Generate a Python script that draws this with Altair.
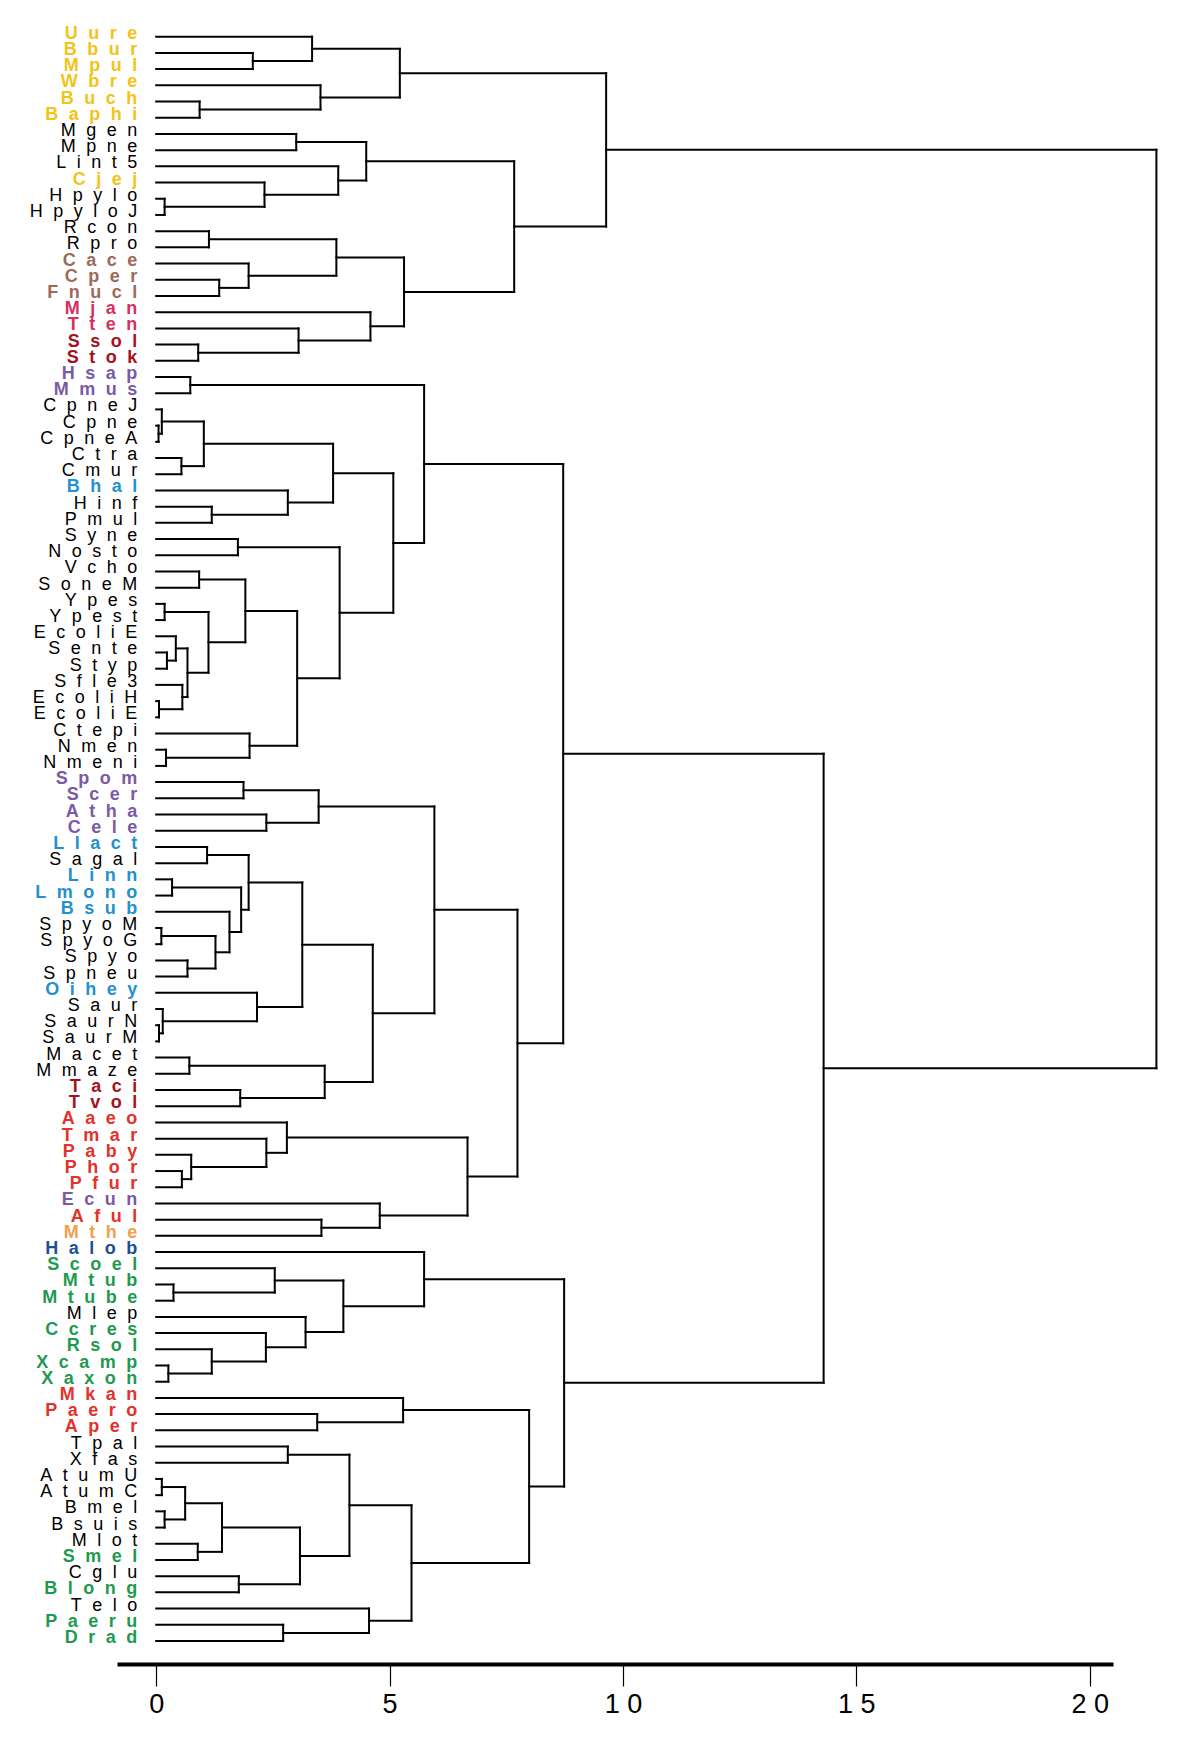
import altair as alt
import pandas as pd

# ---- leaves (top to bottom) ----
leaves = ["Uure", "Bbur", "Mpul", "Wbre", "Buch", "Baphi", "Mgen", "Mpne", "Lint5", "Cjej",
          "Hpylo", "HpyloJ", "Rcon", "Rpro", "Cace", "Cper", "Fnucl", "Mjan", "Tten", "Ssol",
          "Stok", "Hsap", "Mmus", "CpneJ", "Cpne", "CpneA", "Ctra", "Cmur", "Bhal", "Hinf",
          "Pmul", "Syne", "Nosto", "Vcho", "SoneM", "Ypes", "Ypest", "EcoliE", "Sente", "Styp",
          "Sfle3", "EcoliH", "EcoliE", "Ctepi", "Nmen", "Nmeni", "Spom", "Scer", "Atha", "Cele",
          "Llact", "Sagal", "Linn", "Lmono", "Bsub", "SpyoM", "SpyoG", "Spyo", "Spneu", "Oihey",
          "Saur", "SaurN", "SaurM", "Macet", "Mmaze", "Taci", "Tvol", "Aaeo", "Tmar", "Paby",
          "Phor", "Pfur", "Ecun", "Aful", "Mthe", "Halob", "Scoel", "Mtub", "Mtube", "Mlep",
          "Ccres", "Rsol", "Xcamp", "Xaxon", "Mkan", "Paero", "Aper", "Tpal", "Xfas", "AtumU",
          "AtumC", "Bmel", "Bsuis", "Mlot", "Smel", "Cglu", "Blong", "Telo", "Paeru", "Drad"]

leaf_group = ["Y", "Y", "Y", "Y", "Y", "Y", "K", "K", "K", "Y",
              "K", "K", "K", "K", "BR", "BR", "BR", "PK", "PK", "DR",
              "DR", "PU", "PU", "K", "K", "K", "K", "K", "BL", "K",
              "K", "K", "K", "K", "K", "K", "K", "K", "K", "K",
              "K", "K", "K", "K", "K", "K", "PU", "PU", "PU", "PU",
              "BL", "K", "BL", "BL", "BL", "K", "K", "K", "K", "BL",
              "K", "K", "K", "K", "K", "DR", "DR", "R", "R", "R",
              "R", "R", "PU", "R", "OR", "DB", "G", "G", "G", "K",
              "G", "G", "G", "G", "R", "R", "R", "K", "K", "K",
              "K", "K", "K", "K", "G", "K", "G", "K", "G", "G"]

group_colors = {"Y": "#F3C318", "BR": "#9C6A5A", "PK": "#D7305F", "DR": "#A5121B",
                "PU": "#7A5AA5", "BL": "#2391CF", "R": "#E2322A", "OR": "#F0A04E",
                "DB": "#1D4F93", "G": "#1E9A50", "K": "#000000"}

# ---- merges: (cluster id, child a, child b, height); ints are leaf indices ----
merges = [
    ("m1", 1, 2, 2.07), ("m2", 0, "m1", 3.34), ("m3", 4, 5, 0.93), ("m4", 3, "m3", 3.52),
    ("m5", "m2", "m4", 5.22), ("m6", 6, 7, 3.00), ("m7", 10, 11, 0.18), ("m8", 9, "m7", 2.32),
    ("m9", 8, "m8", 3.90), ("m10", "m6", "m9", 4.50), ("m11", 12, 13, 1.13), ("m12", 15, 16, 1.35),
    ("m13", 14, "m12", 1.98), ("m14", "m11", "m13", 3.86), ("m15", 19, 20, 0.90),
    ("m16", 18, "m15", 3.05), ("m17", 17, "m16", 4.59), ("m18", "m14", "m17", 5.31),
    ("m19", "m10", "m18", 7.67), ("m20", "m5", "m19", 9.64),
    ("m21", 21, 22, 0.73), ("m22", 24, 25, 0.05), ("m23", 23, "m22", 0.12), ("m24", 26, 27, 0.54),
    ("m25", "m23", "m24", 1.02), ("m26", 29, 30, 1.19), ("m27", 28, "m26", 2.82),
    ("m28", "m25", "m27", 3.79), ("m29", 31, 32, 1.75), ("m30", 33, 34, 0.92), ("m31", 35, 36, 0.18),
    ("m32", 38, 39, 0.23), ("m33", 37, "m32", 0.42), ("m34", 41, 42, 0.06), ("m35", 40, "m34", 0.56),
    ("m36", "m33", "m35", 0.67), ("m37", "m31", "m36", 1.12), ("m38", "m30", "m37", 1.91),
    ("m39", 44, 45, 0.21), ("m40", 43, "m39", 2.00), ("m41", "m38", "m40", 3.02),
    ("m42", "m29", "m41", 3.93), ("m43", "m28", "m42", 5.08), ("m44", "m21", "m43", 5.74),
    ("m45", 46, 47, 1.87), ("m46", 48, 49, 2.36), ("m47", "m45", "m46", 3.48), ("m48", 50, 51, 1.09),
    ("m49", 52, 53, 0.34), ("m50", 55, 56, 0.11), ("m51", 57, 58, 0.67), ("m52", "m50", "m51", 1.27),
    ("m53", 54, "m52", 1.57), ("m54", "m49", "m53", 1.82), ("m55", "m48", "m54", 1.98),
    ("m56", 61, 62, 0.06), ("m57", 60, "m56", 0.14), ("m58", 59, "m57", 2.16),
    ("m59", "m55", "m58", 3.13), ("m60", 63, 64, 0.71), ("m61", 65, 66, 1.80),
    ("m62", "m60", "m61", 3.61), ("m63", "m59", "m62", 4.64), ("m64", "m47", "m63", 5.96),
    ("m65", 70, 71, 0.55), ("m66", 69, "m65", 0.75), ("m67", 68, "m66", 2.36), ("m68", 67, "m67", 2.80),
    ("m69", 73, 74, 3.54), ("m70", 72, "m69", 4.79), ("m71", "m68", "m70", 6.67),
    ("m72", "m64", "m71", 7.74), ("m73", "m44", "m72", 8.72),
    ("m74", 77, 78, 0.37), ("m75", 76, "m74", 2.54), ("m76", 82, 83, 0.26), ("m77", 81, "m76", 1.19),
    ("m78", 80, "m77", 2.35), ("m79", 79, "m78", 3.20), ("m80", "m75", "m79", 4.01),
    ("m81", 75, "m80", 5.74), ("m82", 85, 86, 3.45), ("m83", 84, "m82", 5.29), ("m84", 87, 88, 2.82),
    ("m85", 89, 90, 0.12), ("m86", 91, 92, 0.18), ("m87", "m85", "m86", 0.62), ("m88", 93, 94, 0.89),
    ("m89", "m87", "m88", 1.41), ("m90", 95, 96, 1.77), ("m91", "m89", "m90", 3.08),
    ("m92", "m84", "m91", 4.14), ("m93", 98, 99, 2.72), ("m94", 97, "m93", 4.56),
    ("m95", "m92", "m94", 5.47), ("m96", "m83", "m95", 7.99), ("m97", "m81", "m96", 8.74),
    ("m98", "m73", "m97", 14.30), ("m99", "m20", "m98", 21.43),
]

tick_values = [0, 5, 10, 15, 20]

# ---- build dendrogram segments from the merges ----
pos = {i: float(i) for i in range(len(leaves))}
hgt = {i: 0.0 for i in range(len(leaves))}
segs = []
for cid, a, b, h in merges:
    for c in (a, b):
        segs.append({"x": hgt[c], "x2": h, "y": pos[c], "y2": pos[c]})
    segs.append({"x": h, "x2": h, "y": pos[a], "y2": pos[b]})
    pos[cid] = (pos[a] + pos[b]) / 2.0
    hgt[cid] = h
seg_df = pd.DataFrame(segs)

sp = "\u2002\u200A"
lab_df = pd.DataFrame({
    "idx": list(range(len(leaves))),
    "h": [hgt[i] for i in range(len(leaves))],
    "label": [sp.join(list(n)) for n in leaves],
    "grp": leaf_group,
    "hex": [group_colors[g] for g in leaf_group],
})

xscale = alt.Scale(domain=[-0.84, 20.5], nice=False, zero=False)
yscale = alt.Scale(domain=[-1.03, 100.42], nice=False, zero=False, reverse=True)

xaxis = alt.Axis(values=tick_values, title=None, grid=False, domainWidth=4, domainColor="black",
                 tickColor="black", tickWidth=1.2, tickSize=22, labelFontSize=27,
                 labelFont="Liberation Sans", labelColor="black", labelPadding=5,
                 labelFlush=False, labelOverlap=False,
                 labelExpr="datum.value >= 10 ? substring(datum.label,0,1) + ' ' + substring(datum.label,1) : datum.label")

tree = alt.Chart(seg_df).mark_rule(strokeWidth=2, color="black", strokeCap="square").encode(
    x=alt.X("x:Q", scale=xscale, axis=xaxis),
    x2="x2:Q",
    y=alt.Y("y:Q", scale=yscale, axis=None),
    y2="y2:Q",
)

base_text = alt.Chart(lab_df).encode(
    x=alt.X("h:Q", scale=xscale, axis=xaxis),
    y=alt.Y("idx:Q", scale=yscale, axis=None),
    text="label:N",
    color=alt.Color("hex:N", scale=None),
)
lab_norm = base_text.transform_filter(alt.datum.grp == "K").mark_text(
    align="right", baseline="alphabetic", dx=-19, dy=2, fontSize=18,
    font="Liberation Sans", fontWeight="normal")
lab_bold = base_text.transform_filter(alt.datum.grp != "K").mark_text(
    align="right", baseline="alphabetic", dx=-19, dy=2, fontSize=18,
    font="Liberation Sans", fontWeight="bold")

chart = alt.layer(tree, lab_norm, lab_bold).properties(
    width=996, height=1644,
    autosize=alt.AutoSizeParams(type="none"),
    padding={"left": 109, "top": 12, "right": 70, "bottom": 70},
).configure_view(stroke=None)

chart.save("out.html", embed_options={"renderer": "svg", "actions": False})
